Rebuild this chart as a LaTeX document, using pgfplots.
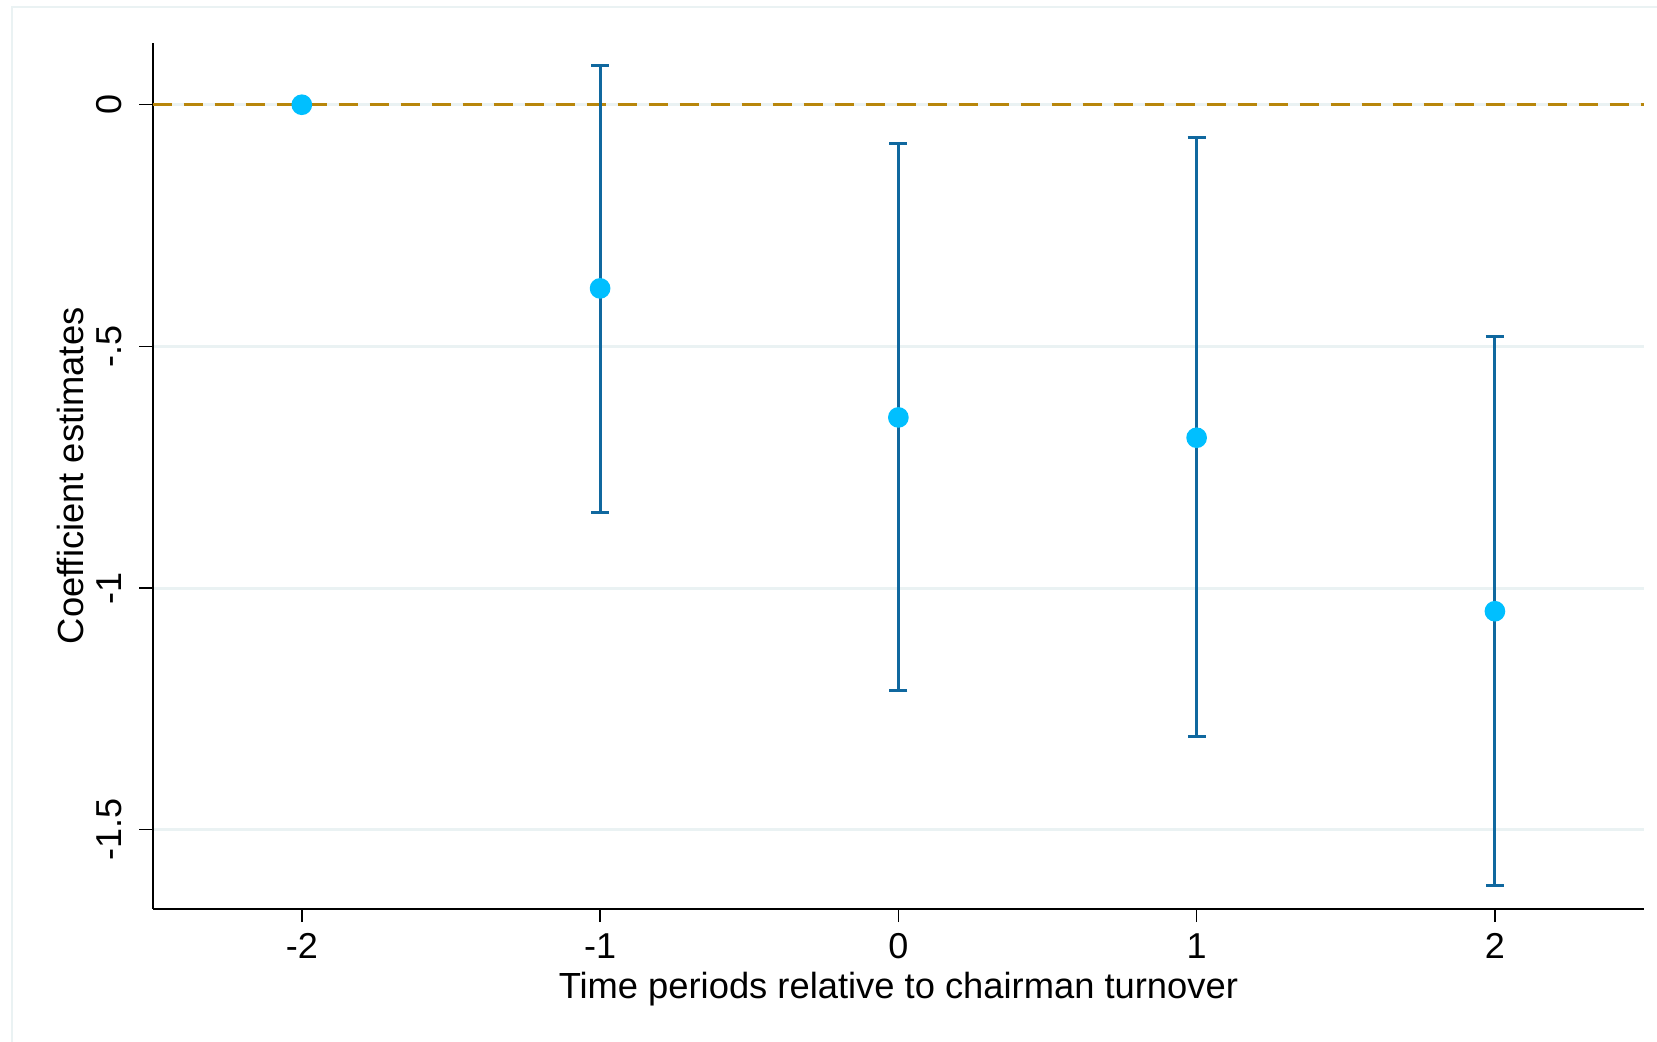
\documentclass[border=0pt]{standalone}
\usepackage{fontspec}
\setmainfont{Liberation Sans}
\usepackage{pgfplots}
\usepackage{pgfplotstable}
\pgfplotsset{compat=1.18}
\definecolor{gridc}{HTML}{EAF2F3}
\definecolor{errc}{HTML}{10689F}
\definecolor{ptc}{HTML}{00BFFF}
\definecolor{refc}{HTML}{B8860B}
\pgfplotstableread{
x y lo hi
-1 -0.380 -0.844 0.081
0 -0.647 -1.211 -0.081
1 -0.689 -1.307 -0.068
2 -1.048 -1.616 -0.480
}\ci
\pgfplotstableread{
x y
-2 0
-1 -0.380
0 -0.647
1 -0.689
2 -1.048
}\pts
\begin{document}
\begin{tikzpicture}
\path[use as bounding box] (0,0) rectangle (497.1pt,312.6pt);
\draw[gridc, line width=0.7pt] (3.6pt,-1pt) -- (3.6pt,310.5pt) -- (500pt,310.5pt);
\begin{axis}[
  at={(45.81pt,39.99pt)}, anchor=south west,
  scale only axis, width=447.4pt, height=259.7pt,
  xmin=-2.5, xmax=2.5, ymin=-1.6635, ymax=0.1277,
  axis x line*=bottom, axis y line*=left,
  axis line style={-, line width=0.6pt, black},
  xtick={-2,-1,0,1,2}, xticklabels={-2,-1,0,1,2},
  ytick={0,-0.5,-1,-1.5}, yticklabels={0,-.5,-1,-1.5},
  tick align=outside, major tick length=4pt,
  tick style={line width=0.45pt, black},
  tick label style={font=\fontsize{10.8}{13}\selectfont},
  yticklabel style={rotate=90, anchor=south},
  yticklabel shift=1.8pt,
  ymajorgrids, grid style={gridc, line width=0.9pt},
  xlabel={Time periods relative to chairman turnover},
  ylabel={Coefficient estimates},
  label style={font=\fontsize{10.9}{13}\selectfont},
  xlabel style={at={(axis description cs:0.5,-0.1043)}, anchor=base},
  ylabel style={at={(axis description cs:-0.0548,0.5)}, anchor=center, rotate=0},
  clip=false,
]
\addplot[refc, line width=0.9pt, dash pattern=on 5.8pt off 3.5pt, forget plot] coordinates {(-2.5,0) (2.5,0)};
\addplot[only marks, mark=none, forget plot,
  error bars/.cd, y dir=both, y explicit,
  error bar style={line width=0.9pt, color=errc},
  error mark options={rotate=90, mark size=2.7pt, line width=0.9pt, color=errc}]
  table[x=x, y=y, y error plus expr=\thisrow{hi}-\thisrow{y}, y error minus expr=\thisrow{y}-\thisrow{lo}] {\ci};
\addplot[only marks, mark=*, mark size=2.9pt, mark options={fill=ptc, draw=ptc}] table[x=x, y=y] {\pts};
\end{axis}
\end{tikzpicture}
\end{document}
